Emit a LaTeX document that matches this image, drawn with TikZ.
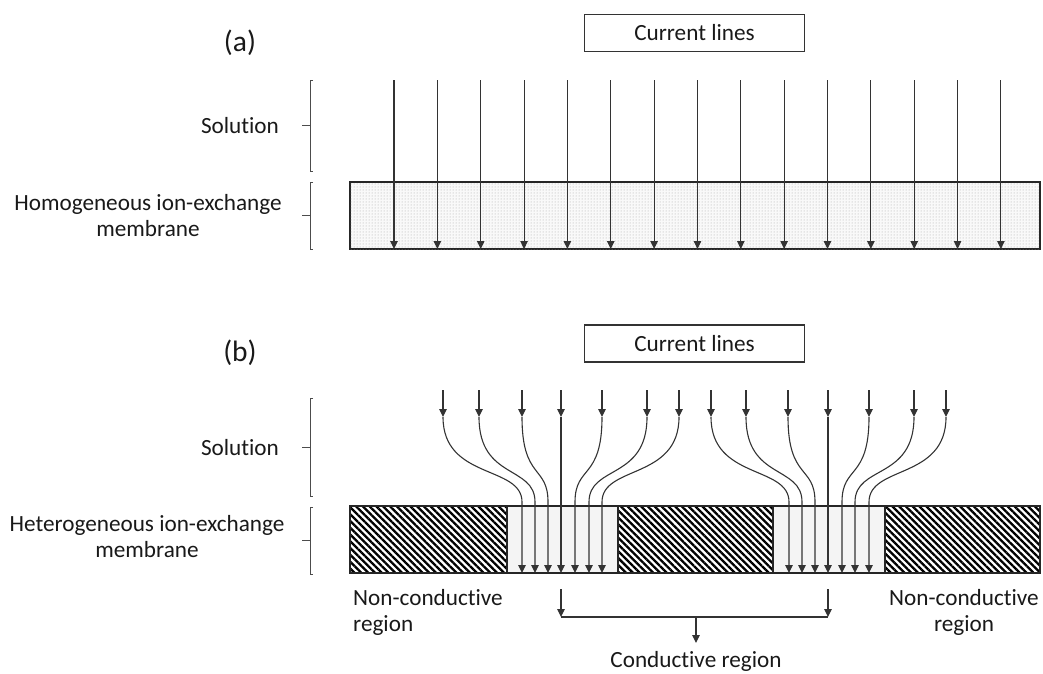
\documentclass[tikz,border=0pt]{standalone}
\usepackage{fontspec}
\setmainfont{Carlito}[Ligatures=NoCommon]
\usetikzlibrary{arrows.meta,patterns.meta}
\begin{document}
\begin{tikzpicture}[x=1pt,y=-1pt,
  every node/.style={font=\fontsize{23.2}{26}\selectfont, inner sep=0pt, text=black!90},
  big/.style={font=\fontsize{29.5}{33}\selectfont},
  ln/.style={line width=1.1pt, draw=black!80},
  arr/.style={ln, -{Triangle[length=8pt,width=7.5pt]}},
  clbox/.style={draw=black!80, line width=1.1pt, minimum width=220pt, minimum height=37pt},
  brk/.style={line width=1pt, draw=black!70},
  hatch/.style={pattern={Lines[angle=-45,distance=4.8pt,line width=2.3pt]}},
  cond/.style={fill=gray!9},
  dotted fill/.style={fill=gray!5, postaction={pattern={Dots[distance=3pt,radius=0.5pt]}, pattern color=gray!70}}
]
\useasboundingbox (0,0) rectangle (1043,673);

% ---------- (a) ----------
\node[big] (la) at (240,43) {(a)};
\node[clbox] (cla) at (694.5,33) {Current lines};
\node[anchor=base] (sola) at (240,133) {Solution};
\node[anchor=north, align=center] (homa) at (148,194) {Homogeneous ion-exchange\\membrane};
% brackets
\draw[brk] (313,80) -- (310,80) -- (310,171) -- (313,171);
\draw[brk] (310,125.5) -- (302,125.5);
\draw[brk] (313,182) -- (310,182) -- (310,249) -- (313,249);
\draw[brk] (310,215.5) -- (302,215.5);
% membrane
\draw[line width=1.1pt, draw=black!85, dotted fill] (350,182) rectangle (1040,249);
\foreach \i in {0,...,14}{
  \coordinate (at\i) at ({394+43.35*\i},80);
  \coordinate (ab\i) at ({394+43.35*\i},249);
  \draw[arr] (at\i) -- (ab\i);
}

% ---------- (b) ----------
\node[big] (lb) at (240,353) {(b)};
\node[clbox] (clb) at (694.5,343.5) {Current lines};
\node[anchor=base] (solb) at (240,455) {Solution};
\node[anchor=north, align=center] (hetb) at (147,515) {Heterogeneous ion-exchange\\membrane};
\draw[brk] (313,398) -- (310,398) -- (310,496) -- (313,496);
\draw[brk] (310,447) -- (302,447);
\draw[brk] (313,507) -- (310,507) -- (310,574) -- (313,574);
\draw[brk] (310,540.5) -- (302,540.5);
% membrane
\fill[white] (350,506) rectangle (1040,573);
\path[hatch] (350,506) rectangle (507,573);
\path[hatch] (618,506) rectangle (773,573);
\path[hatch] (885,506) rectangle (1040,573);
\path[cond] (507,506) rectangle (618,573);
\path[cond] (773,506) rectangle (885,573);
\draw[line width=1.1pt, draw=black!85] (350,506) rectangle (1040,573);
\draw[line width=1.1pt, draw=black!85] (507,506) -- (507,573) (618,506) -- (618,573)
  (773,506) -- (773,573) (885,506) -- (885,573);
% current lines
\foreach \xt/\xb [count=\k] in {443/522,479/535,522/548,561/561,602/575,647/589,679/602,
  711/789,746/802,788/815,828/828,869/842,914/855,946/869}{
  \coordinate (t\k) at (\xt,390);
  \coordinate (h\k) at (\xt,417);
  \coordinate (m\k) at (\xb,502);
  \coordinate (e\k) at (\xb,573);
  \draw[arr] (t\k) -- (h\k);
  \draw[arr] (h\k) .. controls +(0,63) and +(0,-37) .. (m\k) -- (e\k);
}
% labels
\node[anchor=north west, align=left] (ncl) at (353,589) {Non-conductive\\region};
\node[anchor=north, align=center] (ncr) at (964,589) {Non-conductive\\region};
\coordinate (cl) at (561,589);
\coordinate (clx) at (561,617);
\coordinate (cr) at (828,589);
\coordinate (crx) at (828,617);
\coordinate (cm) at (696,617);
\coordinate (cmx) at (696,643);
\draw[arr] (cl) -- (clx);
\draw[arr] (cr) -- (crx);
\draw[ln] (clx) -- (crx);
\draw[arr] (cm) -- (cmx);
\node[anchor=base] (cond) at (696,667.5) {Conductive region};
\end{tikzpicture}
\end{document}
